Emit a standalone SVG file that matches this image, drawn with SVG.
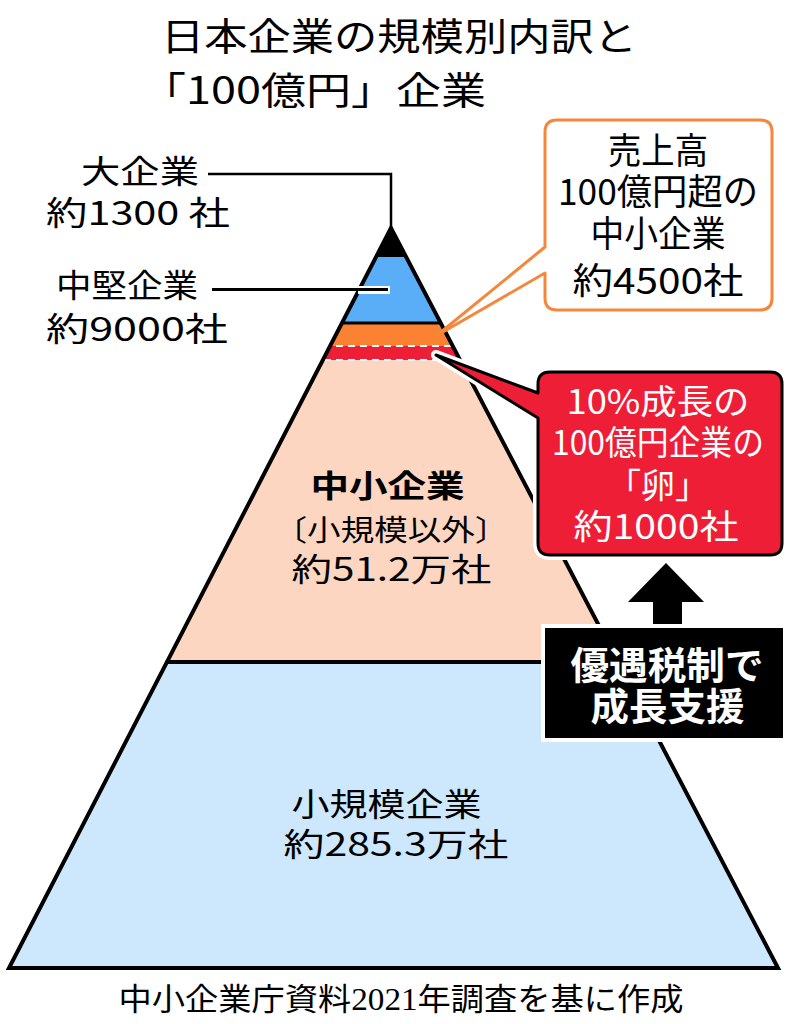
<svg xmlns="http://www.w3.org/2000/svg" width="798" height="1024" viewBox="0 0 798 1024">
<style>
text{font-family:"Noto Sans CJK JP","Noto Sans",sans-serif;fill:#000;}
.mid{text-anchor:middle;}
.w{fill:#fff;}
.b{font-weight:bold;}
.src{font-family:"Liberation Serif","Noto Sans CJK JP",serif;}
.lead{stroke:#000;stroke-width:2.5;fill:none;}
</style>
<defs>
<clipPath id="tri"><polygon points="391,228 9,968 778,968"/></clipPath>
</defs>
<rect width="798" height="1024" fill="#fff"/>

<g id="title">
<text x="161" y="50" font-size="38" textLength="476" lengthAdjust="spacingAndGlyphs">日本企業の規模別内訳と</text>
<text x="141" y="104" font-size="38" textLength="345" lengthAdjust="spacingAndGlyphs">「100億円」企業</text>
</g>

<g id="pyramid">
<g clip-path="url(#tri)">
<rect x="0" y="662" width="798" height="310" fill="#CDE8FC"/>
<rect x="0" y="360" width="798" height="302" fill="#FCD6C0"/>
<rect x="0" y="346" width="798" height="14" fill="#EE1E37"/>
<rect x="0" y="322" width="798" height="24" fill="#FA8232"/>
<rect x="0" y="257" width="798" height="65" fill="#5AAEF8"/>
<rect x="0" y="220" width="798" height="37" fill="#000"/>
<line x1="0" y1="346" x2="798" y2="346" stroke="#fff" stroke-width="2" stroke-dasharray="7 5"/>
<line x1="0" y1="360" x2="798" y2="360" stroke="#fff" stroke-width="2" stroke-dasharray="7 5"/>
<line x1="0" y1="323" x2="798" y2="323" stroke="#000" stroke-width="3"/>
<line x1="0" y1="662" x2="798" y2="662" stroke="#000" stroke-width="4"/>
</g>
<polygon points="391,228 9,968 778,968" fill="none" stroke="#000" stroke-width="4" stroke-linejoin="miter"/>
</g>

<g id="connectors">
<polyline class="lead" points="208,174 391,174 391,228"/>
<line x1="358" y1="290" x2="390" y2="290" stroke="#fff" stroke-width="8"/>
<line x1="212" y1="289.5" x2="388" y2="289.5" stroke="#000" stroke-width="3"/>
</g>

<g id="label-large">
<text x="81" y="182.5" font-size="32" textLength="118" lengthAdjust="spacingAndGlyphs">大企業</text>
<text x="46" y="224.5" font-size="33" textLength="184" lengthAdjust="spacingAndGlyphs">約1300 社</text>
</g>
<g id="label-midsize">
<text x="56" y="296.5" font-size="32" textLength="142" lengthAdjust="spacingAndGlyphs">中堅企業</text>
<text x="46" y="341" font-size="33" textLength="182" lengthAdjust="spacingAndGlyphs">約9000社</text>
</g>

<g id="label-sme">
<text class="mid b" x="387.5" y="497" font-size="31" textLength="154" lengthAdjust="spacingAndGlyphs">中小企業</text>
<text class="mid" x="391" y="541" font-size="29" textLength="235" lengthAdjust="spacingAndGlyphs">〔小規模以外〕</text>
<text class="mid" x="391.5" y="580.5" font-size="32" textLength="200" lengthAdjust="spacingAndGlyphs">約51.2万社</text>
</g>

<g id="label-small">
<text class="mid" x="386.5" y="815.5" font-size="32" textLength="190" lengthAdjust="spacingAndGlyphs">小規模企業</text>
<text class="mid" x="396" y="855.5" font-size="32" textLength="225" lengthAdjust="spacingAndGlyphs">約285.3万社</text>
</g>

<g id="callout-100oku">
<path d="M557,120 H760 Q772,120 772,132 V298 Q772,310 760,310 H557 Q545,310 545,298 V273 L436,336 L545,247 V132 Q545,120 557,120 Z" fill="#fff" stroke="#F5873C" stroke-width="3" stroke-linejoin="round"/>
<text class="mid" x="658" y="164" font-size="36" textLength="100" lengthAdjust="spacingAndGlyphs">売上高</text>
<text class="mid" x="658" y="204.5" font-size="36" textLength="200" lengthAdjust="spacingAndGlyphs">100億円超の</text>
<text class="mid" x="658" y="246.5" font-size="36" textLength="135" lengthAdjust="spacingAndGlyphs">中小企業</text>
<text class="mid" x="658" y="293.5" font-size="36" textLength="171" lengthAdjust="spacingAndGlyphs">約4500社</text>
</g>

<g id="callout-egg">
<path d="M550,372 H770 Q782,372 782,384 V543 Q782,555 770,555 H550 Q538,555 538,543 V418 L436,355 L538,393 V384 Q538,372 550,372 Z" fill="none" stroke="#fff" stroke-width="10" stroke-linejoin="round"/>
<path d="M550,372 H770 Q782,372 782,384 V543 Q782,555 770,555 H550 Q538,555 538,543 V418 L436,355 L538,393 V384 Q538,372 550,372 Z" fill="#EE1E37" stroke="#000" stroke-width="3" stroke-linejoin="round"/>
<text class="mid w" x="658" y="413.5" font-size="34" textLength="183" lengthAdjust="spacingAndGlyphs">10%成長の</text>
<text class="mid w" x="658" y="455" font-size="34" textLength="212" lengthAdjust="spacingAndGlyphs">100億円企業の</text>
<text class="mid w" x="658" y="498" font-size="34">「卵」</text>
<text class="mid w" x="656" y="538.5" font-size="34" textLength="165" lengthAdjust="spacingAndGlyphs">約1000社</text>
</g>

<g id="arrow">
<polygon points="666,563 704,602 682,602 682,630 653,630 653,602 628,602" fill="#000"/>
</g>

<g id="support-box">
<rect x="541" y="624" width="246" height="118" fill="#fff"/>
<rect x="545" y="628" width="238" height="110" fill="#000"/>
<text class="mid w b" x="667" y="678.5" font-size="38" textLength="193" lengthAdjust="spacingAndGlyphs">優遇税制で</text>
<text class="mid w b" x="667.5" y="720" font-size="38" textLength="154" lengthAdjust="spacingAndGlyphs">成長支援</text>
</g>

<g id="source">
<text class="mid src" x="401" y="1009.5" font-size="31" textLength="565" lengthAdjust="spacingAndGlyphs">中小企業庁資料2021年調査を基に作成</text>
</g>
</svg>
